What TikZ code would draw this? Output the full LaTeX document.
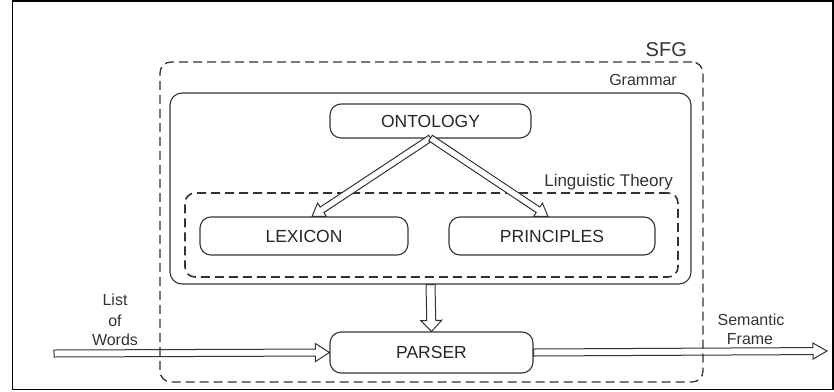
\documentclass[tikz,border=0pt]{standalone}
\usepackage{fontspec}
\setmainfont{Liberation Sans}
\usetikzlibrary{calc}
\tikzset{
  boxlabel/.style={font=\fontsize{17.5}{20}\selectfont, text=black!85},
  roundbox/.style={draw=black!80, line width=1.1pt, rounded corners=11pt, fill=white, boxlabel},
  frametext/.style={font=\fontsize{16}{19}\selectfont, text=black!80, inner sep=0pt},
  harrowstyle/.style={draw=black!80, line width=1pt, fill=white, line join=miter},
  container/.style={line width=1.1pt, rounded corners=12pt, inner sep=0pt},
}
\newcommand\harrow[5]{%
  \path let \p1=(#1), \p2=(#2), \n1={atan2(\y2-\y1,\x2-\x1)}, \n2={veclen(\x2-\x1,\y2-\y1)} in
    \pgfextra{\xdef\hAng{\n1}\xdef\hLen{\n2}\xdef\hX{\x1}\xdef\hY{\y1}};
  \begin{scope}[shift={(\hX,\hY)}, rotate=\hAng]
    \draw[harrowstyle] (0pt,-#3) -- ({\hLen-#5},-#3) -- ({\hLen-#5},-#4) -- (\hLen,0pt)
      -- ({\hLen-#5},#4) -- ({\hLen-#5},#3) -- (0pt,#3) -- cycle;
  \end{scope}}
\begin{document}
\begin{tikzpicture}[x=1pt,y=-1pt]
\useasboundingbox (0,0) rectangle (834,391);
\draw[line width=1.5pt, black] (12.5,0.8) rectangle (833.2,389.5);

% containers
\node[container, draw=black!80, minimum width=521pt, minimum height=191pt] (grammar) at (430.5,188.5) {};
\node[container, draw=black!80, dashed, dash pattern=on 9pt off 5pt, line width=1.6pt, rounded corners=10pt,
      minimum width=493pt, minimum height=84pt] (lt) at (431.5,235) {};

% nodes
\node[roundbox, minimum width=201pt, minimum height=34pt] (onto) at (430.5,121) {ONTOLOGY};
\node[roundbox, minimum width=208pt, minimum height=38pt] (lex) at (304,236) {LEXICON};
\node[roundbox, minimum width=206pt, minimum height=38pt] (prin) at (552,236) {PRINCIPLES};
\node[roundbox, minimum width=203pt, minimum height=41pt] (parser) at (431.5,352.5) {PARSER};

% labels
\node[frametext, font=\fontsize{20}{22}\selectfont, anchor=base east] (sfglabel) at (687,56) {SFG};
\node[frametext, anchor=base east] (gramlabel) at (677,85) {Grammar};
\node[frametext, font=\fontsize{17}{20}\selectfont, anchor=base east] (ltlabel) at (673,186) {Linguistic Theory};
\node[frametext, anchor=base] (l1) at (115,305.5) {List};
\node[frametext, anchor=base] (l2) at (115,326) {of};
\node[frametext, anchor=base] (l3) at (115,345.5) {Words};
\node[frametext, anchor=base] (s1) at (751,325.5) {Semantic};
\node[frametext, anchor=base] (s2) at (750,344) {Frame};

% connector endpoints
\coordinate (ontoout) at ($(onto.south)+(0,-0.5)$);
\coordinate (lexin) at ($(lex.north)+(8,0)$);
\coordinate (prinin) at ($(prin.north)+(-4,0)$);
\coordinate (inputstart) at (54,353.5);
\coordinate (outputend) at (827,351);

% arrows
\harrow{ontoout}{lexin}{3.3pt}{8pt}{12pt}
\harrow{ontoout}{prinin}{3.3pt}{8pt}{12pt}
\harrow{grammar.south}{parser.north}{4.5pt}{10.5pt}{11pt}
\harrow{inputstart}{parser.west}{3.5pt}{9pt}{14pt}
\harrow{parser.east}{outputend}{3.5pt}{8pt}{14pt}

% SFG box on top
\node[container, draw=black!80, dashed, dash pattern=on 9pt off 5pt, line width=1.3pt, rounded corners=11pt,
      minimum width=543pt, minimum height=320pt] (sfg) at (431.5,222) {};
\end{tikzpicture}
\end{document}
